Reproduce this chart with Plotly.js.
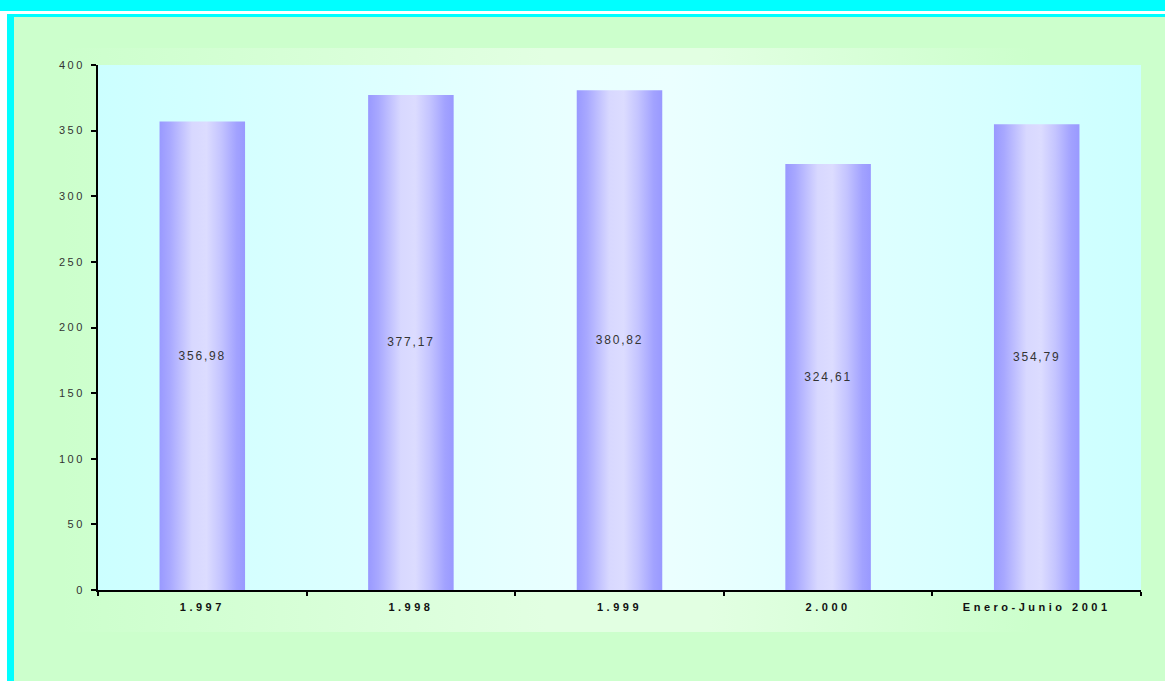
<!DOCTYPE html>
<html>
<head>
<meta charset="utf-8">
<script src="https://cdn.plot.ly/plotly-3.0.1.min.js"></script>
<style>
  html, body { margin: 0; padding: 0; background: #ffffff; }
  #wrap { position: relative; width: 1165px; height: 681px; overflow: hidden; background: #ffffff; }
  .bg { position: absolute; }
  #topband { left: 0; top: 0; width: 1165px; height: 11px; background: #00ffff; }
  #frame { left: 7px; top: 14px; width: 1158px; height: 667px; background: #00ffff; }
  #green { left: 14px; top: 17px; width: 1151px; height: 664px; background: #ccffcc; }
  #chartarea { left: 60px; top: 48px; width: 1081px; height: 584px;
    background: linear-gradient(90deg, rgba(224,255,224,0) 0%, rgba(226,255,226,1) 45%, rgba(226,255,226,1) 60%, rgba(224,255,224,0) 90%); }
  #plotarea { left: 98px; top: 65px; width: 1043px; height: 525px;
    background: linear-gradient(90deg, #ccffff 0%, #e9ffff 45%, #ebffff 55%, #ccffff 100%); }
  #chart { position: absolute; left: 0; top: 0; width: 1165px; height: 681px; }
  .xtick text { letter-spacing: 3.5px; }
  .ytick text { letter-spacing: 2.5px; }
  text.bartext { letter-spacing: 1.8px; }
  .trace.bars .point path { fill: url(#bargrad) !important; }
</style>
</head>
<body>
<svg width="0" height="0" style="position:absolute">
  <defs>
    <linearGradient id="bargrad" x1="0" y1="0" x2="1" y2="0">
      <stop offset="0" stop-color="#9999ff"/>
      <stop offset="0.12" stop-color="#a8a8ff"/>
      <stop offset="0.38" stop-color="#d8d8ff"/>
      <stop offset="0.55" stop-color="#dcdcff"/>
      <stop offset="0.72" stop-color="#c4c4ff"/>
      <stop offset="0.9" stop-color="#a2a2ff"/>
      <stop offset="1" stop-color="#9999ff"/>
    </linearGradient>
  </defs>
</svg>
<div id="wrap">
  <div class="bg" id="topband"></div>
  <div class="bg" id="frame"></div>
  <div class="bg" id="green"></div>
  <div class="bg" id="chartarea"></div>
  <div class="bg" id="plotarea"></div>
  <div id="chart"></div>
</div>
<script>
const categories = ["1.997", "1.998", "1.999", "2.000", "Enero-Junio 2001"];
const values = [356.98, 377.17, 380.82, 324.61, 354.79];
const yTicks = [0, 50, 100, 150, 200, 250, 300, 350, 400];

const trace = {
  type: "bar",
  x: categories,
  y: values,
  width: 0.41,
  marker: { color: "#c0c0ff", line: { width: 0 } },
  texttemplate: "%{y:.2f}",
  textposition: "inside",
  insidetextanchor: "middle",
  textangle: 0,
  textfont: { family: "Liberation Sans, Arial, sans-serif", size: 12, color: "#333333" },
  hoverinfo: "skip"
};

const layout = {
  width: 1165,
  height: 681,
  margin: { l: 98, r: 24, t: 65, b: 91 },
  paper_bgcolor: "rgba(0,0,0,0)",
  plot_bgcolor: "rgba(0,0,0,0)",
  separators: ",.",
  showlegend: false,
  font: { family: "Liberation Sans, Arial, sans-serif", color: "#333333", size: 11 },
  xaxis: {
    type: "category",
    tickson: "boundaries",
    ticks: "outside",
    ticklen: 4,
    tickwidth: 2,
    tickcolor: "#000000",
    showline: true,
    linecolor: "#000000",
    linewidth: 2,
    showgrid: false,
    zeroline: false,
    tickfont: { family: "Liberation Sans, Arial, sans-serif", size: 11, color: "#111111", weight: "bold" },
    ticklabelstandoff: 6
  },
  yaxis: {
    range: [0, 400],
    tickmode: "array",
    tickvals: yTicks,
    ticktext: yTicks.map(String),
    ticks: "outside",
    ticklen: 5,
    tickwidth: 2,
    tickcolor: "#000000",
    showline: true,
    linecolor: "#000000",
    linewidth: 2,
    showgrid: false,
    zeroline: false,
    tickfont: { family: "Liberation Sans, Arial, sans-serif", size: 11, color: "#333333" },
    ticklabelstandoff: 4
  },
  bargap: 0.59
};

Plotly.newPlot("chart", [trace], layout, { staticPlot: true, displayModeBar: false });
</script>
</body>
</html>
